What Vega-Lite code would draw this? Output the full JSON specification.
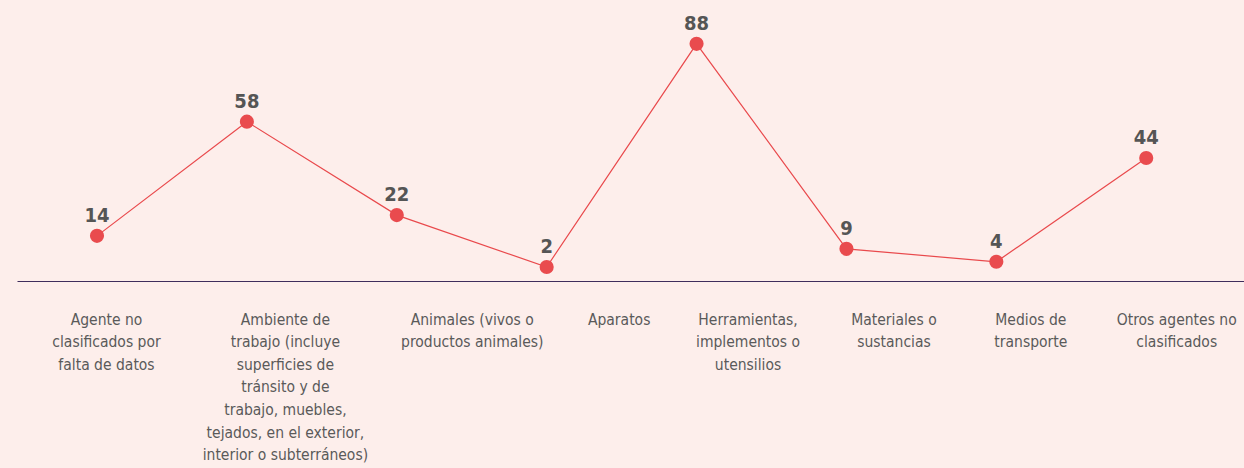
{
  "$schema": "https://vega.github.io/schema/vega-lite/v6.json",
  "width": 1227,
  "height": 281,
  "autosize": {"type": "none"},
  "padding": {"left": 17, "top": 0, "right": 0, "bottom": 187},
  "background": "#fdeeeb",
  "config": {"view": {"stroke": null}},
  "data": {
    "values": [
      {"agente": "Agente no\nclasificados por\nfalta de datos", "casos": 14},
      {"agente": "Ambiente de\ntrabajo (incluye\nsuperficies de\ntránsito y de\ntrabajo, muebles,\ntejados, en el exterior,\ninterior o subterráneos)", "casos": 58},
      {"agente": "Animales (vivos o\nproductos animales)", "casos": 22},
      {"agente": "Aparatos", "casos": 2},
      {"agente": "Herramientas,\nimplementos o\nutensilios", "casos": 88},
      {"agente": "Materiales o\nsustancias", "casos": 9},
      {"agente": "Medios de\ntransporte", "casos": 4},
      {"agente": "Otros agentes no\nclasificados", "casos": 44}
    ]
  },
  "encoding": {
    "x": {
      "field": "agente",
      "type": "nominal",
      "sort": null,
      "scale": {"type": "point", "padding": 0.593, "align": 0.45},
      "axis": {
        "title": null,
        "orient": "bottom",
        "ticks": false,
        "tickSize": 0,
        "domainColor": "#3f2d5c",
        "domainWidth": 1.2,
        "labelAngle": 0,
        "labelAlign": "center",
        "labelBaseline": "top",
        "labelPadding": 31,
        "labelLineHeight": 22.6,
        "labelFont": "DejaVu Sans Condensed",
        "labelFontSize": 15.5,
        "labelColor": "#5a5a5a",
        "labelLimit": 0,
        "labelOverlap": false,
        "labelExpr": "split(datum.label, '\\n')",
        "labelOffset": {
          "condition": [
            {"test": "indexof(datum.value, 'Agente') == 0", "value": 9},
            {"test": "indexof(datum.value, 'Ambiente') == 0", "value": 38},
            {"test": "indexof(datum.value, 'Animales') == 0", "value": 75},
            {"test": "indexof(datum.value, 'Aparatos') == 0", "value": 72},
            {"test": "indexof(datum.value, 'Herramientas') == 0", "value": 51},
            {"test": "indexof(datum.value, 'Materiales') == 0", "value": 47},
            {"test": "indexof(datum.value, 'Medios') == 0", "value": 34}
          ],
          "value": 30
        }
      }
    },
    "y": {
      "field": "casos",
      "type": "quantitative",
      "scale": {"domain": [-3.4, 104.9], "nice": false, "zero": false},
      "axis": null
    }
  },
  "layer": [
    {"mark": {"type": "line", "color": "#e9494c", "strokeWidth": 1.2}},
    {"mark": {"type": "point", "filled": true, "opacity": 1, "color": "#e94b4e", "size": 200}},
    {
      "mark": {
        "type": "text",
        "baseline": "alphabetic",
        "dy": -14,
        "font": "DejaVu Sans Condensed",
        "fontWeight": "bold",
        "fontSize": 20,
        "color": "#555555"
      },
      "encoding": {"text": {"field": "casos", "type": "quantitative"}}
    }
  ]
}
